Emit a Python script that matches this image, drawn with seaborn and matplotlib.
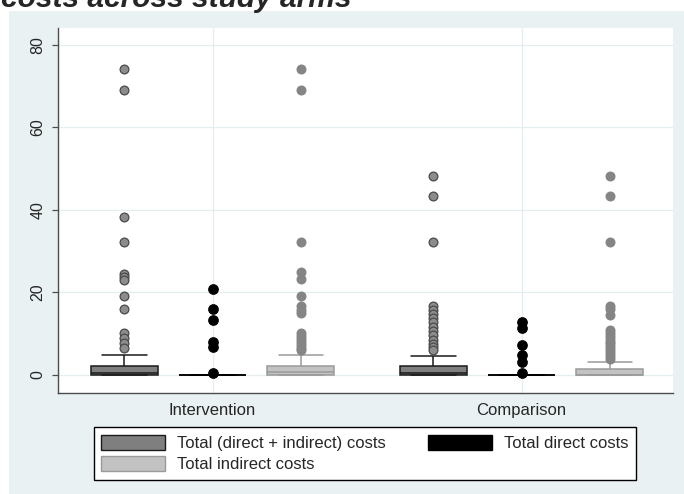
import seaborn as sns
import pandas as pd
import numpy as np
import matplotlib.pyplot as plt
from matplotlib.patches import Patch, Rectangle

sns.set_theme(style="white")
plt.rcParams['font.family'] = ['Liberation Sans', 'DejaVu Sans']

# Werte
arms = ["Intervention", "Comparison"]
series = ["Total (direct + indirect) costs", "Total direct costs", "Total indirect costs"]

# Box-Kennwerte je Arm: Q1, Median, Q3, oberer Whisker
total_box = {"Intervention": [0, 0.6, 2.3, 4.8], "Comparison": [0, 0.5, 2.2, 4.7]}
direct_box = {"Intervention": [0, 0, 0, 0], "Comparison": [0, 0, 0, 0]}
indirect_box = {"Intervention": [0, 0.8, 2.1, 4.75], "Comparison": [0, 0, 1.5, 3.1]}

# Ausreißer
total_int_out = [74.2, 69.1, 38.2, 32.2, 24.4, 23.7, 23.0, 19.2, 16.0, 10.3, 9.0, 7.8, 6.6]
total_cmp_out = [48.3, 43.5, 32.2, 16.7, 15.8, 14.8, 13.8, 12.8, 11.7, 10.6, 9.6, 8.5, 7.6, 6.8, 6.1]
direct_int_out = [20.8, 16.0, 13.3, 8.1, 6.9, 0.4]
direct_cmp_out = [12.9, 11.3, 7.3, 4.8, 3.2, 0.4]
indirect_int_out = [74.2, 69.1, 32.2, 25.0, 23.2, 19.2, 16.7, 15.8, 15.0, 10.2, 9.5, 8.7, 8.0, 7.3, 6.6, 6.0]
indirect_cmp_out = [48.3, 43.5, 32.2, 16.8, 15.9, 14.5, 10.9, 10.2, 9.5, 8.8, 8.1, 7.4, 6.7, 6.0, 5.3, 4.6, 4.0]


def make_sample(box, outliers):
    # Stichprobe mit n = 4m+1, damit Quartile genau auf den Kennwerten liegen
    q1, med, q3, whi = box
    m = len(outliers) + 1
    return [q1] * (m + 1) + [med] * m + [q3] * m + [whi] + list(outliers)


rows = []
for arm, boxes, outs in [
    ("Intervention", (total_box, direct_box, indirect_box), (total_int_out, direct_int_out, indirect_int_out)),
    ("Comparison", (total_box, direct_box, indirect_box), (total_cmp_out, direct_cmp_out, indirect_cmp_out)),
]:
    for s, b, o in zip(series, boxes, outs):
        for v in make_sample(b[arm], o):
            rows.append({"arm": arm, "series": s, "cost": v})
df = pd.DataFrame(rows)

fill = {series[0]: "#7f7f7f", series[1]: "#000000", series[2]: "#c2c2c2"}
edge = {series[0]: "#1a1a1a", series[1]: "#000000", series[2]: "#9a9a9a"}
flier_face = {series[0]: "#8c8c8c", series[1]: "#000000", series[2]: "#858585"}
flier_edge = {series[0]: "#4a4a4a", series[1]: "#000000", series[2]: "#858585"}
flier_size = {series[0]: 6.3, series[1]: 6.8, series[2]: 6.3}

fig = plt.figure(figsize=(6.84, 4.94), dpi=100)
fig.patches.append(Rectangle((9 / 684, 0), 675 / 684, 483 / 494, transform=fig.transFigure,
                             facecolor="#e9f1f2", edgecolor="none", zorder=-1))
ax = fig.add_axes([58 / 684, 101 / 494, 615 / 684, 365 / 494])
ax.set_facecolor("white")

for s in series:
    sns.boxplot(data=df[df["series"] == s], x="arm", y="cost", hue="series",
                order=arms, hue_order=series, palette=fill, linecolor=edge[s],
                dodge=True, width=0.855, gap=0.24, linewidth=1.1, legend=False, ax=ax,
                capwidths=0.143,
                flierprops=dict(marker="o", markerfacecolor=flier_face[s],
                                markeredgecolor=flier_edge[s], markersize=flier_size[s],
                                markeredgewidth=0.9))

ax.set_xlim(-0.5, 1.49)
ax.set_ylim(-4.36, 84.1)
ax.set_yticks([0, 20, 40, 60, 80])
ax.set_xlabel("")
ax.set_ylabel("")
ax.set_axisbelow(True)
ax.grid(True, color="#e4edef", linewidth=0.9)
for side in ["top", "right"]:
    ax.spines[side].set_visible(False)
for side in ["left", "bottom"]:
    ax.spines[side].set_color("#4d4d4d")
    ax.spines[side].set_linewidth(1.0)
ax.tick_params(axis="y", labelsize=11.5, labelrotation=90, length=4, width=0.9,
               color="#4d4d4d", pad=5, left=True)
for lbl in ax.get_yticklabels():
    lbl.set_va("center")
ax.tick_params(axis="x", labelsize=12, length=0, pad=7)

handles = [Patch(facecolor=fill[series[0]], edgecolor=edge[series[0]], linewidth=1.0, label=series[0]),
           Patch(facecolor=fill[series[2]], edgecolor=edge[series[2]], linewidth=1.0, label=series[2]),
           Patch(facecolor=fill[series[1]], edgecolor=edge[series[1]], linewidth=1.0, label=series[1])]
fig.legend(handles=handles, loc="upper center", bbox_to_anchor=(365 / 684, 1 - 427 / 494),
           ncol=2, fontsize=12, frameon=True, fancybox=False, framealpha=1,
           edgecolor="#000000", facecolor="white", handlelength=3.8, handleheight=1.05,
           handletextpad=0.75, columnspacing=2.55, borderpad=0.45, labelspacing=0.3,
           borderaxespad=0)

fig.text(1 / 684, 1 - 7 / 494, "costs across study arms", fontsize=21.5,
         fontweight="bold", fontstyle="italic", va="baseline", ha="left")

fig.savefig("out.png", dpi=100)
